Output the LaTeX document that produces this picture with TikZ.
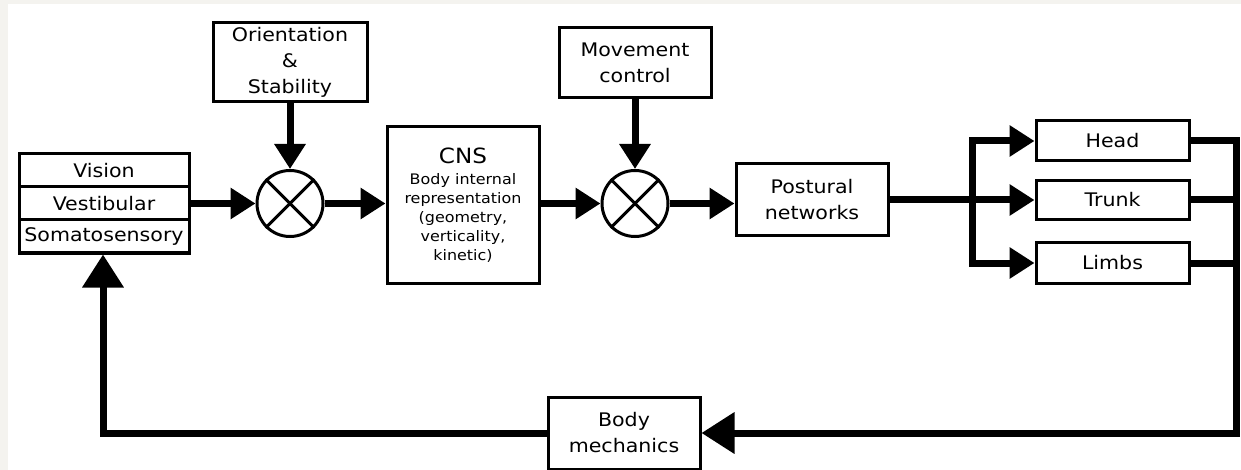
\documentclass[tikz,border=0pt]{standalone}
\usepackage{fontspec}
\setmainfont[FakeStretch=1.1]{DejaVu Sans}
\usetikzlibrary{arrows.meta}
\definecolor{edgegrey}{HTML}{F4F3EF}
\tikzset{
  box/.style={draw=black, line width=3pt, fill=white, align=center, inner sep=0pt,
              font=\fontsize{18.7}{26}\selectfont},
  sumnode/.style={draw=black, line width=3pt, circle, minimum size=66pt, inner sep=0pt},
  fwd/.style={line width=7pt, -{Triangle[length=25pt,width=30pt]}},
  back/.style={line width=7pt, line join=miter, -{Triangle[length=33pt,width=40pt]}},
  plain/.style={line width=7pt, line join=miter},
}
\begin{document}
\begin{tikzpicture}[x=1pt,y=-1pt]
\useasboundingbox (0,0) rectangle (1241,470);
\fill[edgegrey] (0,0) rectangle (1241,4);
\fill[edgegrey] (0,0) rectangle (8,470);

% nodes
\node[box, minimum width=154pt, minimum height=79pt] (orient) at (290,62.5) {Orientation\\\&\\Stability};
\node[box, minimum width=170pt, minimum height=33pt] (vis) at (104,170.5) {Vision};
\node[box, minimum width=170pt, minimum height=33pt] (vest) at (104,203.5) {Vestibular};
\node[box, minimum width=170pt, minimum height=33pt] (soma) at (104,236.5) {Somatosensory};
\node[sumnode] (s1) at (290,203.5) {};
\node[box, minimum width=152pt, minimum height=156pt, font=\fontsize{14.5}{19}\selectfont] (cns) at (463,205)
  {{\fontsize{21}{25}\selectfont CNS}\\[2pt]Body internal\\representation\\(geometry,\\verticality,\\kinetic)};
\node[box, minimum width=152pt, minimum height=70pt] (move) at (635,63) {Movement\\control};
\node[sumnode] (s2) at (635,203.5) {};
\node[box, minimum width=152pt, minimum height=72pt] (post) at (812,200) {Postural\\networks};
\node[box, minimum width=153pt, minimum height=40pt] (head) at (1112.5,141) {Head};
\node[box, minimum width=153pt, minimum height=39pt] (trunk) at (1112.5,200) {Trunk};
\node[box, minimum width=153pt, minimum height=40pt] (limbs) at (1112.5,263) {Limbs};
\node[box, minimum width=152pt, minimum height=72pt] (bm) at (624,433) {Body\\mechanics};

% crosses in summing junctions
\foreach \s in {s1,s2}{
  \draw[line width=3pt] (\s.north west) -- (\s.south east);
  \draw[line width=3pt] (\s.north east) -- (\s.south west);
}

\coordinate (bx) at (972,0);
\coordinate (rx) at (1236,0);
\coordinate (lx) at (103,0);

% forward path
\draw[fwd] (orient.south) -- (s1.north);
\draw[fwd] (vest.east) -- (s1.west);
\draw[fwd] (s1.east) -- (s1.east -| cns.west);
\draw[fwd] (s1.east -| cns.east) -- (s2.west);
\draw[fwd] (move.south) -- (s2.north);
\draw[fwd] (s2.east) -- (s2.east -| post.west);
\draw[fwd] (post.east) -- (trunk.west);
\draw[line width=7pt, line join=miter, {Triangle[length=25pt,width=30pt]}-{Triangle[length=25pt,width=30pt]}]
  (head.west) -- (bx |- head.west) -- (bx |- limbs.west) -- (limbs.west);

% feedback path
\draw[back] (head.east) -- (head.east -| rx) -- (rx |- bm.east) -- (bm.east);
\draw[plain] (trunk.east) -- (trunk.east -| rx);
\draw[plain] (limbs.east) -- (limbs.east -| rx);
\draw[back] (bm.west) -- (bm.west -| lx) -- (lx |- soma.south);
\end{tikzpicture}
\end{document}
